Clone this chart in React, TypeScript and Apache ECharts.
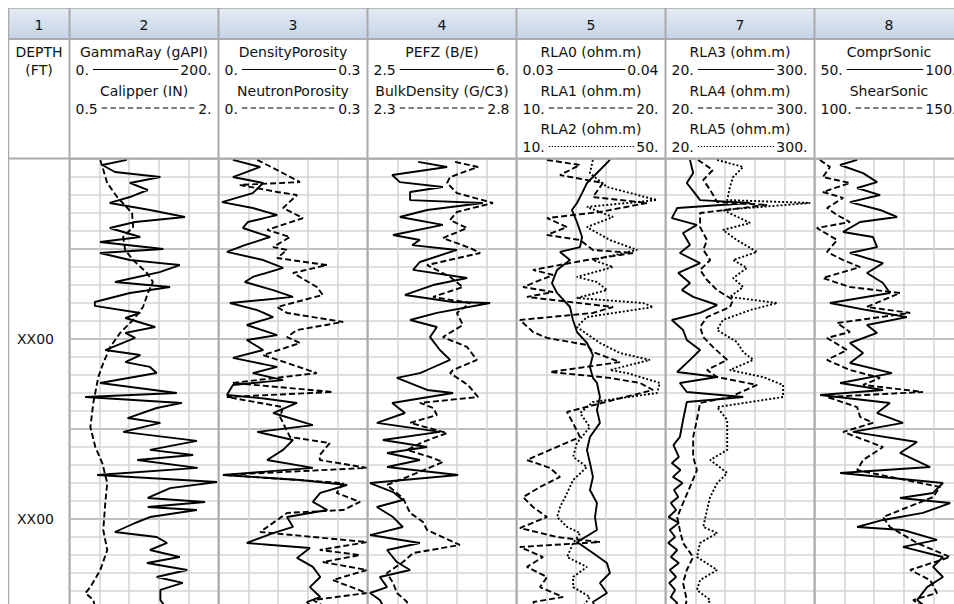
import React, { useEffect, useRef } from "react";
import * as echarts from "echarts";

const FONT_FAMILY = '"DejaVu Sans", Verdana, sans-serif';
const FONT = '14px "DejaVu Sans", Verdana, sans-serif';

const trackNumbers = ["1", "2", "3", "4", "5", "7", "8"];
const depthHeader = ["DEPTH", "(FT)"];
const depthMin = 900;
const depthMax = 1150;
const depthLabelText = "XX00";

// [depth (ft), value]
const gammaRay: [number, number][] = [
  [900.8, 77], [903.6, 44], [907.5, 61], [910.3, 122], [913.6, 81], [917.5, 105], [921.4, 81], [924.7, 54],
  [928.6, 108], [932.5, 155], [935.3, 88], [938.6, 54], [943.6, 95], [946.4, 41], [950.3, 126], [952.5, 41],
  [956.4, 81], [959.2, 148], [963.1, 121], [968.6, 61], [971.4, 135], [974.7, 81], [979.7, 34], [981.9, 34],
  [985.8, 95], [988.6, 75], [993.6, 115], [996.9, 75], [999.7, 88], [1006.4, 48], [1009.2, 95], [1013.1, 75],
  [1015.8, 108], [1019.2, 117], [1024.7, 41], [1030.3, 144], [1032.5, 21], [1035.8, 151], [1038.6, 117],
  [1044.2, 78], [1046.9, 122], [1051.9, 72], [1056.9, 171], [1061.9, 108], [1064.7, 166], [1067.5, 91],
  [1071.9, 172], [1075.8, 37], [1079.7, 198], [1083.1, 135], [1088.6, 105], [1090.8, 182], [1093.6, 105],
  [1095.3, 171], [1099.2, 108], [1102.5, 88], [1107.5, 61], [1110.3, 117], [1113.6, 131], [1117.5, 108],
  [1121.4, 148], [1124.7, 104], [1128.6, 158], [1132.5, 117], [1135.8, 152], [1139.7, 122], [1145.3, 122],
  [1150, 130],
];
const calipper: [number, number][] = [
  [900.8, 0.81], [913.6, 0.88], [921.4, 0.98], [930.3, 1.13], [938.1, 1.14], [943.6, 1.04], [950.8, 1.06],
  [956.4, 1.14], [963.6, 1.28], [968.6, 1.34], [974.7, 1.29], [982.5, 1.24], [989.7, 1.14], [996.9, 1.01],
  [1004.7, 0.91], [1013.6, 0.84], [1021.4, 0.79], [1035.8, 0.74], [1049.2, 0.71], [1060.3, 0.76],
  [1069.2, 0.83], [1080.3, 0.88], [1091.4, 0.86], [1106.4, 0.84], [1117.5, 0.88], [1128.6, 0.81],
  [1138.1, 0.71], [1141.4, 0.66], [1145.3, 0.74], [1150, 0.76],
];
const densityPorosity: [number, number][] = [
  [900.8, 0.029], [904.7, 0.084], [910.3, 0.029], [913.6, 0.09], [919.2, 0.069], [924.2, 0.007], [927.5, 0.069],
  [931.4, 0.118], [935.3, 0.059], [938.6, 0.049], [943.6, 0.104], [948.1, 0.053], [951.9, 0.017], [956.4, 0.09],
  [960.8, 0.13], [965.8, 0.069], [968.6, 0.053], [973.1, 0.11], [976.9, 0.15], [980.3, 0.023], [984.2, 0.078],
  [988.1, 0.11], [992.5, 0.057], [998.1, 0.118], [1000.8, 0.057], [1006.4, 0.09], [1010.8, 0.029],
  [1015.8, 0.118], [1019.2, 0.069], [1023.1, 0.13], [1025.8, 0.029], [1031.4, 0.017], [1033.1, 0.084],
  [1035.8, 0.158], [1041.4, 0.11], [1048.1, 0.19], [1051.9, 0.078], [1056.4, 0.15], [1061.9, 0.13],
  [1067.5, 0.098], [1071.9, 0.19], [1075.8, 0.009], [1078.6, 0.164], [1081.4, 0.259], [1085.8, 0.205],
  [1090.8, 0.19], [1095.3, 0.219], [1099.2, 0.138], [1104.7, 0.15], [1108.1, 0.11], [1113.6, 0.057],
  [1116.4, 0.184], [1121.9, 0.158], [1126.9, 0.19], [1132.5, 0.205], [1138.1, 0.184], [1143.6, 0.205],
  [1146.4, 0.178], [1150, 0.19],
];
const neutronPorosity: [number, number][] = [
  [900.8, 0.078], [906.4, 0.118], [913.1, 0.164], [914.7, 0.043], [918.6, 0.118], [920.3, 0.158], [927.5, 0.13],
  [933.1, 0.17], [939.7, 0.098], [943.6, 0.144], [949.2, 0.11], [950.8, 0.138], [955.3, 0.118], [959.2, 0.218],
  [963.6, 0.15], [971.4, 0.198], [975.8, 0.21], [982.5, 0.118], [985.8, 0.138], [990.8, 0.251], [995.3, 0.158],
  [999.2, 0.138], [1002.5, 0.164], [1009.2, 0.09], [1013.6, 0.138], [1019.2, 0.198], [1024.7, 0.029],
  [1029.7, 0.23], [1032.5, 0.017], [1038.1, 0.13], [1043.6, 0.124], [1054.7, 0.144], [1058.1, 0.224],
  [1064.7, 0.204], [1067.5, 0.204], [1071.9, 0.299], [1075.8, 0.009], [1080.3, 0.251], [1085.8, 0.238],
  [1090.8, 0.285], [1095.3, 0.251], [1096.9, 0.138], [1107.5, 0.084], [1113.1, 0.299], [1117.5, 0.204],
  [1120.3, 0.285], [1124.2, 0.21], [1128.6, 0.299], [1134.2, 0.23], [1141.4, 0.299], [1145.3, 0.19],
  [1150, 0.22],
];
const pefz: [number, number][] = [
  [901.9, 3.69], [904.7, 4.37], [909.2, 3.08], [913.1, 3.26], [915.8, 4.27], [918.6, 3.5], [923.1, 3.5],
  [924.7, 5.21], [928.6, 3.9], [932.5, 3.26], [936.9, 4.27], [942.5, 3.1], [945.3, 3.73], [948.1, 3.55],
  [950.8, 4.6], [957.5, 3.73], [961.9, 3.57], [966.4, 4.84], [970.3, 4.04], [975.8, 3.38], [979.7, 4.51],
  [980.3, 5.38], [985.8, 4.13], [989.7, 3.5], [993.6, 4.13], [999.2, 3.97], [1006.4, 4.2], [1011.9, 4.44],
  [1017.5, 3.9], [1019.2, 3.73], [1021.9, 3.19], [1028.6, 3.9], [1030.3, 4.51], [1035.8, 3.08], [1041.4, 3.38],
  [1046.9, 2.72], [1051.9, 4.2], [1056.4, 2.86], [1060.3, 3.9], [1063.6, 2.96], [1067.5, 3.73], [1071.4, 2.96],
  [1075.8, 4.63], [1080.3, 2.56], [1085.3, 3.1], [1089.7, 3.33], [1093.6, 2.72], [1099.2, 3.1], [1104.7, 3.33],
  [1109.2, 2.56], [1113.6, 3.73], [1117.5, 2.96], [1124.2, 3.19], [1128.6, 3.5], [1132.5, 2.79],
  [1138.1, 2.96], [1141.4, 2.56], [1145.3, 2.79], [1150, 2.9],
];
const bulkDensity: [number, number][] = [
  [901.9, 2.594], [904.7, 2.671], [910.3, 2.577], [913.6, 2.567], [919.2, 2.6], [924.7, 2.721], [929.7, 2.6],
  [934.2, 2.577], [938.6, 2.634], [944.2, 2.553], [949.7, 2.644], [952.5, 2.678], [959.2, 2.5], [965.8, 2.577],
  [971.4, 2.62], [976.9, 2.52], [980.3, 2.644], [985.8, 2.6], [992.5, 2.62], [999.2, 2.553], [1004.7, 2.634],
  [1011.9, 2.667], [1017.5, 2.587], [1019.2, 2.577], [1025.8, 2.637], [1032.5, 2.671], [1035.8, 2.476],
  [1038.6, 2.52], [1042.5, 2.533], [1046.9, 2.443], [1052.5, 2.567], [1057.5, 2.486], [1061.9, 2.433],
  [1066.4, 2.52], [1068.6, 2.553], [1074.7, 2.466], [1081.4, 2.365], [1088.6, 2.419], [1096.9, 2.443],
  [1101.9, 2.486], [1106.4, 2.5], [1114.7, 2.61], [1119.2, 2.453], [1124.2, 2.419], [1130.3, 2.365],
  [1135.8, 2.386], [1141.4, 2.399], [1146.4, 2.433], [1150, 2.42],
];
const rla0: [number, number][] = [
  [900.8, 0.03627], [906.4, 0.0356], [913.6, 0.03473], [919.2, 0.0344], [924.7, 0.03406], [928.6, 0.03372],
  [935.3, 0.03406], [943.6, 0.0344], [949.2, 0.03426], [951.9, 0.03292], [956.4, 0.03359], [961.9, 0.03272],
  [969.2, 0.03238], [974.7, 0.03272], [982.5, 0.03359], [989.7, 0.03379], [996.4, 0.03406], [1002.5, 0.03473],
  [1009.2, 0.03513], [1015.8, 0.03493], [1021.9, 0.03513], [1024.7, 0.0354], [1032.5, 0.0356], [1039.7, 0.0354],
  [1046.9, 0.0356], [1054.7, 0.03493], [1061.9, 0.03473], [1069.2, 0.03493], [1076.9, 0.03513],
  [1084.2, 0.03493], [1091.4, 0.0354], [1099.2, 0.03527], [1106.4, 0.0354], [1113.1, 0.03406],
  [1119.2, 0.03513], [1124.7, 0.03607], [1130.3, 0.03627], [1135.8, 0.0356], [1141.4, 0.03607],
  [1146.4, 0.03513], [1150, 0.0353],
];
const rla1: [number, number][] = [
  [900.8, 12.05], [903.6, 14.26], [909.2, 12.92], [913.6, 15.8], [921.4, 15.13], [924.7, 18.76], [929.7, 15.6],
  [933.1, 12.05], [938.1, 13.39], [942.5, 12.05], [945.3, 14.26], [950.8, 15.13], [952.5, 17.82], [956.4, 14.73],
  [961.9, 11.11], [964.7, 12.45], [971.4, 10.44], [974.2, 12.45], [976.9, 10.7], [982.5, 16.48], [985.8, 15.13],
  [989.7, 10.23], [996.4, 11.11], [999.7, 12.05], [1003.6, 14.73], [1007.5, 15.13], [1013.1, 16.94],
  [1018.6, 12.25], [1021.9, 16.27], [1024.7, 18.29], [1028.6, 19.16], [1034.2, 16.48], [1040.8, 13.39],
  [1046.9, 13.79], [1054.7, 14.26], [1061.9, 12.25], [1067.5, 10.7], [1071.9, 12.25], [1076.9, 12.92],
  [1082.5, 11.58], [1088.1, 10.44], [1093.6, 11.11], [1099.2, 12.05], [1105.3, 10.23], [1110.3, 12.72],
  [1113.1, 15.6], [1115.8, 10.23], [1121.4, 11.78], [1126.9, 10.7], [1132.5, 12.05], [1138.1, 11.58],
  [1143.6, 13.12], [1146.4, 11.11], [1150, 11.6],
];
const rla2: [number, number][] = [
  [900.8, 30.5], [908.1, 29.7], [915.8, 34.3], [923.1, 47.7], [926.9, 28.9], [932.5, 35.9], [938.1, 28.9],
  [945.3, 35.1], [950.8, 42.4], [956.4, 30.5], [960.3, 35.9], [965.8, 26.2], [968.6, 31.6], [973.1, 34.3],
  [977.5, 26.2], [980.3, 44.0], [982.5, 46.7], [988.1, 28.9], [993.6, 26.2], [1002.5, 32.4], [1008.1, 37.8],
  [1011.9, 45.8], [1017.5, 35.1], [1019.2, 39.7], [1024.7, 48.5], [1030.3, 47.7], [1035.3, 30.5],
  [1041.4, 27.1], [1049.2, 29.7], [1058.1, 26.2], [1065.8, 25.2], [1071.4, 28.9], [1078.6, 25.2],
  [1085.8, 23.6], [1093.6, 21.7], [1099.2, 20.9], [1104.7, 23.6], [1108.1, 27.1], [1113.6, 25.2],
  [1121.4, 23.6], [1126.9, 28.9], [1132.5, 25.2], [1138.1, 25.2], [1143.6, 29.7], [1150, 27.5],
];
const rla3: [number, number][] = [
  [900.8, 66], [908.1, 72], [913.6, 60], [919.2, 75], [923.1, 85], [924.7, 179], [927.5, 42], [933.1, 32],
  [936.9, 79], [941.4, 53], [948.1, 66], [952.5, 47], [958.1, 85], [963.6, 44], [969.2, 66], [973.1, 51],
  [976.9, 72], [981.4, 117], [985.8, 85], [989.7, 32], [995.3, 53], [1000.8, 60], [1006.4, 85], [1011.9, 66],
  [1018.6, 42], [1021.4, 117], [1024.7, 47], [1029.7, 60], [1032.5, 166], [1035.3, 60], [1045.3, 53],
  [1054.7, 47], [1059.2, 35], [1065.8, 45], [1069.2, 32], [1073.1, 48], [1076.9, 34], [1080.3, 52],
  [1084.2, 36], [1088.1, 44], [1091.4, 30], [1095.3, 40], [1099.2, 26], [1102.5, 45], [1106.4, 28],
  [1110.3, 38], [1113.6, 25], [1117.5, 42], [1121.4, 30], [1124.7, 45], [1128.6, 28], [1132.5, 40],
  [1135.8, 27], [1139.7, 38], [1143.6, 30], [1146.9, 42], [1150, 33],
];
const rla4: [number, number][] = [
  [900.8, 81], [906.4, 109], [911.9, 91], [917.5, 104], [924.2, 117], [925.8, 211], [930.3, 85], [938.1, 85],
  [945.3, 98], [950.8, 91], [956.4, 104], [961.9, 85], [967.5, 98], [973.1, 117], [978.6, 147], [982.5, 141],
  [988.1, 98], [993.6, 85], [999.2, 91], [1004.7, 109], [1011.9, 136], [1017.5, 98], [1021.4, 117],
  [1025.8, 192], [1032.5, 141], [1035.8, 85], [1045.3, 79], [1054.7, 72], [1065.8, 72], [1073.1, 79],
  [1082.5, 66], [1091.4, 53], [1099.2, 42], [1106.4, 47], [1113.6, 53], [1121.4, 72], [1128.6, 60],
  [1135.8, 53], [1145.3, 60], [1150, 56],
];
const rla5: [number, number][] = [
  [900.8, 117], [904.7, 166], [910.3, 147], [915.8, 141], [923.1, 136], [924.7, 292], [928.6, 128], [935.8, 179],
  [939.7, 128], [945.3, 154], [951.9, 192], [956.4, 147], [960.8, 173], [966.4, 147], [971.4, 166], [976.9, 141],
  [980.3, 230], [984.2, 179], [989.7, 128], [995.3, 117], [1001.9, 154], [1007.5, 166], [1011.9, 185],
  [1017.5, 141], [1021.4, 203], [1025.8, 241], [1032.5, 241], [1038.1, 117], [1045.3, 136], [1054.7, 136],
  [1061.9, 136], [1067.5, 104], [1074.7, 136], [1080.3, 117], [1088.1, 104], [1095.3, 98], [1104.7, 91],
  [1108.1, 117], [1113.6, 85], [1121.4, 79], [1128.6, 117], [1134.2, 85], [1139.7, 79], [1145.3, 104],
  [1150, 95],
];
const comprSonic: [number, number][] = [
  [900.8, 64.3], [903.6, 58.6], [908.1, 66.3], [913.1, 71.0], [916.4, 64.3], [920.3, 72.0], [924.2, 61.9],
  [928.6, 72.0], [932.5, 77.7], [935.3, 65.3], [940.8, 59.6], [943.6, 69.6], [949.2, 71.0], [952.5, 61.9],
  [958.1, 73.0], [963.6, 67.6], [969.2, 73.0], [974.7, 75.3], [980.3, 55.2], [984.2, 67.6], [988.1, 81.0],
  [992.5, 67.6], [996.9, 71.0], [1002.5, 61.9], [1008.1, 66.3], [1013.6, 61.9], [1019.2, 76.0],
  [1024.7, 58.6], [1028.6, 73.0], [1031.4, 51.9], [1035.8, 75.3], [1041.4, 71.0], [1046.9, 79.7],
  [1051.9, 62.9], [1057.5, 84.4], [1063.6, 78.7], [1071.4, 88.8], [1074.7, 58.6], [1080.3, 93.1],
  [1085.8, 89.8], [1088.6, 78.7], [1091.4, 95.5], [1096.9, 86.4], [1100.8, 73.0], [1104.7, 64.3],
  [1106.4, 79.7], [1111.9, 91.1], [1115.8, 79.7], [1121.4, 93.1], [1126.9, 89.8], [1132.5, 93.1],
  [1138.1, 87.8], [1145.3, 84.4], [1150, 88],
];
const shearSonic: [number, number][] = [
  [900.8, 101.8], [904.7, 105.2], [910.3, 102.8], [913.6, 111.9], [918.6, 102.8], [921.9, 109.6],
  [927.5, 104.2], [931.4, 107.6], [935.3, 111.9], [938.6, 100.8], [945.3, 107.6], [951.9, 104.2],
  [956.4, 109.6], [960.3, 115.3], [966.4, 102.8], [971.4, 111.9], [974.7, 128.7], [982.5, 117.6],
  [985.8, 132.1], [991.4, 107.6], [996.4, 111.9], [999.7, 104.2], [1006.4, 110.9], [1011.9, 104.2],
  [1017.5, 111.9], [1021.9, 122.0], [1025.8, 116.3], [1029.7, 136.4], [1032.5, 104.2], [1038.1, 114.3],
  [1043.6, 115.3], [1046.9, 119.6], [1051.9, 109.6], [1060.3, 123.0], [1067.5, 116.3], [1073.1, 114.3],
  [1082.5, 142.1], [1088.1, 139.8], [1099.2, 123.0], [1104.7, 125.3], [1113.6, 134.4], [1121.4, 145.5],
  [1128.6, 132.1], [1134.2, 138.8], [1141.4, 141.1], [1145.3, 133.1], [1150, 137],
];

type LineKind = "solid" | "dashed" | "dotted";
type Curve = { title: string; lo: string; hi: string; min: number; max: number; kind: LineKind; data: [number, number][] };

const tracks: Curve[][] = [
  [
    { title: "GammaRay (gAPI)", lo: "0.", hi: "200.", min: 0, max: 200, kind: "solid", data: gammaRay },
    { title: "Calipper (IN)", lo: "0.5", hi: "2.", min: 0.5, max: 2, kind: "dashed", data: calipper },
  ],
  [
    { title: "DensityPorosity", lo: "0.", hi: "0.3", min: 0, max: 0.3, kind: "solid", data: densityPorosity },
    { title: "NeutronPorosity", lo: "0.", hi: "0.3", min: 0, max: 0.3, kind: "dashed", data: neutronPorosity },
  ],
  [
    { title: "PEFZ (B/E)", lo: "2.5", hi: "6.", min: 2.5, max: 6, kind: "solid", data: pefz },
    { title: "BulkDensity (G/C3)", lo: "2.3", hi: "2.8", min: 2.3, max: 2.8, kind: "dashed", data: bulkDensity },
  ],
  [
    { title: "RLA0 (ohm.m)", lo: "0.03", hi: "0.04", min: 0.03, max: 0.04, kind: "solid", data: rla0 },
    { title: "RLA1 (ohm.m)", lo: "10.", hi: "20.", min: 10, max: 20, kind: "dashed", data: rla1 },
    { title: "RLA2 (ohm.m)", lo: "10.", hi: "50.", min: 10, max: 50, kind: "dotted", data: rla2 },
  ],
  [
    { title: "RLA3 (ohm.m)", lo: "20.", hi: "300.", min: 20, max: 300, kind: "solid", data: rla3 },
    { title: "RLA4 (ohm.m)", lo: "20.", hi: "300.", min: 20, max: 300, kind: "dashed", data: rla4 },
    { title: "RLA5 (ohm.m)", lo: "20.", hi: "300.", min: 20, max: 300, kind: "dotted", data: rla5 },
  ],
  [
    { title: "ComprSonic", lo: "50.", hi: "100.", min: 50, max: 100, kind: "solid", data: comprSonic },
    { title: "ShearSonic", lo: "100.", hi: "150.", min: 100, max: 150, kind: "dashed", data: shearSonic },
  ],
];

// layout (px, chart coordinates)
const DEPTH_W = 61;
const TRACK_W = 149;
const TRACK_X0 = 61.5;
const BAND_H = 31;
const PLOT_TOP = 150.5;
const PLOT_H = 450;
const HEAD_ROWS = [
  [43.5, 62],
  [82.5, 100.5],
  [120.5, 139],
];

function measure(text: string): number {
  const ctx = document.createElement("canvas").getContext("2d");
  if (!ctx) return text.length * 8;
  ctx.font = FONT;
  return ctx.measureText(text).width;
}

function dashFor(kind: LineKind, header: boolean): any {
  if (kind === "solid") return "solid";
  if (kind === "dashed") return header ? [5.5, 3.2] : [6, 3];
  return header ? [1.4, 1.6] : [2, 2];
}

function txt(text: string, x: number, y: number, align: string) {
  return {
    type: "text",
    x,
    y,
    z: 120,
    silent: true,
    style: {
      text,
      font: FONT,
      fill: "#111111",
      align,
      verticalAlign: "middle",
      textAlign: align,
      textVerticalAlign: "middle",
    },
  };
}

export default function App() {
  const ref = useRef<HTMLDivElement>(null);

  useEffect(() => {
    if (!ref.current) return;
    const chart = echarts.init(ref.current, undefined, { renderer: "svg" });

    const grids: any[] = [];
    const xAxes: any[] = [];
    const yAxes: any[] = [];
    const series: any[] = [];
    const graphics: any[] = [];

    tracks.forEach((curves, i) => {
      const left = TRACK_X0 + i * TRACK_W;
      grids.push({ left, top: PLOT_TOP, width: TRACK_W, height: PLOT_H, show: false });
      yAxes.push({
        type: "value",
        gridIndex: i,
        min: depthMin,
        max: depthMax,
        inverse: true,
        interval: 50,
        axisLine: { show: false },
        axisTick: { show: false },
        axisLabel: { show: false },
        splitLine: { show: true, lineStyle: { color: "#c0c0c0", width: 2 } },
        minorTick: { show: false, splitNumber: 5 },
        minorSplitLine: { show: true, lineStyle: { color: "#d6d6d6", width: 1.5 } },
      });
      xAxes.push({
        type: "value",
        gridIndex: i,
        min: 0,
        max: 5,
        interval: 1,
        axisLine: { show: false },
        axisTick: { show: false },
        axisLabel: { show: false },
        splitLine: { show: true, lineStyle: { color: "#d3d3d3", width: 1.5 } },
      });
      curves.forEach((c, k) => {
        const xi = xAxes.length;
        xAxes.push({ type: "value", gridIndex: i, min: c.min, max: c.max, show: false });
        series.push({
          type: "line",
          name: c.title,
          xAxisIndex: xi,
          yAxisIndex: i,
          data: c.data.map(([d, v]) => [v, d]),
          showSymbol: false,
          symbol: "none",
          silent: true,
          z: 3,
          lineStyle: { color: "#000", width: 1.9, type: dashFor(c.kind, false) },
        });

        // header
        const [ty, sy] = HEAD_ROWS[k];
        const right = left + TRACK_W;
        graphics.push(txt(c.title, left + TRACK_W / 2, ty, "center"));
        graphics.push(txt(c.lo, left + 6, sy, "left"));
        graphics.push(txt(c.hi, right - 7, sy, "right"));
        const x1 = left + 6 + measure(c.lo) + 4;
        const x2 = right - 7 - measure(c.hi) - 2;
        graphics.push({
          type: "line",
          z: 120,
          silent: true,
          shape: { x1, y1: sy - 0.5, x2, y2: sy - 0.5 },
          style: {
            stroke: "#000",
            lineWidth: 1.2,
            lineDash: c.kind === "solid" ? null : dashFor(c.kind, true),
          },
        });
      });
    });

    // depth track
    const di = grids.length;
    grids.push({ left: 0.5, top: PLOT_TOP, width: DEPTH_W, height: PLOT_H, show: false });
    xAxes.push({ type: "value", gridIndex: di, min: 0, max: 1, show: false });
    yAxes.push({
      type: "value",
      gridIndex: di,
      min: depthMin,
      max: depthMax,
      inverse: true,
      interval: 100,
      position: "left",
      axisLine: { show: false },
      axisTick: { show: false },
      splitLine: { show: false },
      axisLabel: {
        show: true,
        inside: true,
        margin: 27,
        align: "center",
        fontFamily: FONT_FAMILY,
        fontSize: 14,
        color: "#111111",
        showMaxLabel: false,
        formatter: (v: number) => (v === depthMin || v % 100 !== 0 ? "" : depthLabelText),
      },
    });

    // header band
    graphics.push({
      type: "rect",
      z: 100,
      silent: true,
      shape: { x: 0.5, y: 0.5, width: 980, height: BAND_H - 0.5 },
      style: {
        fill: new echarts.graphic.LinearGradient(0, 0, 0, 1, [
          { offset: 0, color: "#e4ebf4" },
          { offset: 1, color: "#c4d3e6" },
        ]),
        stroke: "#b8b8b8",
        lineWidth: 1,
      },
    });
    // column numbers
    const colCenters = [0.5 + DEPTH_W / 2].concat(tracks.map((_, i) => TRACK_X0 + i * TRACK_W + TRACK_W / 2));
    trackNumbers.forEach((n, i) => graphics.push(txt(n, colCenters[i], 16.5, "center")));
    // depth header
    graphics.push(txt(depthHeader[0], 0.5 + DEPTH_W / 2, 43.5, "center"));
    graphics.push(txt(depthHeader[1], 0.5 + DEPTH_W / 2, 62, "center"));

    // borders
    const borderXs = [TRACK_X0].concat(tracks.map((_, i) => TRACK_X0 + (i + 1) * TRACK_W));
    borderXs.forEach((x) =>
      graphics.push({
        type: "line",
        z: 110,
        silent: true,
        shape: { x1: x, y1: 0, x2: x, y2: 640 },
        style: { stroke: "#a9a9a9", lineWidth: 2 },
      })
    );
    graphics.push({
      type: "line",
      z: 110,
      silent: true,
      shape: { x1: 0.5, y1: 0, x2: 0.5, y2: 640 },
      style: { stroke: "#a9a9a9", lineWidth: 1.5 },
    });
    [BAND_H, PLOT_TOP].forEach((y) =>
      graphics.push({
        type: "line",
        z: 110,
        silent: true,
        shape: { x1: 0, y1: y, x2: 980, y2: y },
        style: { stroke: "#ababab", lineWidth: 2 },
      })
    );

    chart.setOption({
      animation: false,
      backgroundColor: "#ffffff",
      grid: grids,
      xAxis: xAxes,
      yAxis: yAxes,
      series,
      graphic: { elements: graphics },
    });

    return () => chart.dispose();
  }, []);

  return (
    <div
      style={{
        position: "fixed",
        left: 8,
        top: 8,
        width: 946,
        height: 596,
        overflow: "hidden",
        background: "#fff",
      }}
    >
      <div ref={ref} style={{ width: 970, height: 630 }} />
    </div>
  );
}
